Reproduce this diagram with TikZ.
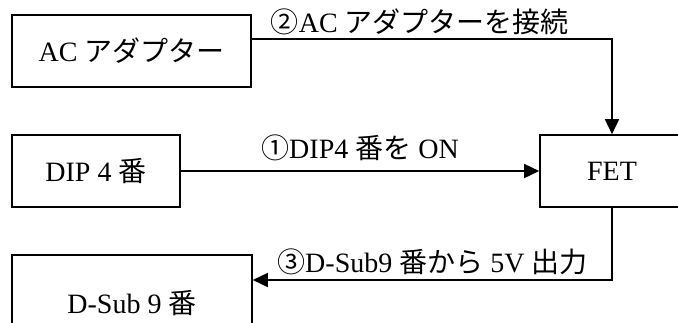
\documentclass[tikz,border=0pt]{standalone}
\usepackage{fontspec}
\setmainfont{Liberation Serif}
\newfontfamily\jp{Noto Sans CJK JP}
\usetikzlibrary{arrows.meta}

\begin{document}
\begin{tikzpicture}[x=1pt, y=-1pt, font=\fontsize{28}{34}\selectfont, line width=1.6pt, line join=miter, >={Triangle[length=15pt,width=14pt]},
	box/.style={draw, minimum height=72pt, inner sep=0pt},
	lbl/.style={inner sep=2pt}]
	\def \W{678}
	\def \H{322}
	\useasboundingbox (0,0) rectangle (\W,\H);
	\clip (0,0) rectangle (\W,\H);
	% blocks
	\node[box, minimum width=239pt] (ac) at (131.5,51) {AC {\jp アダプター}};
	\node[box, minimum width=168pt] (dip) at (96,171) {DIP 4 {\jp 番}};
	\node[box, minimum width=144pt] (fet) at (612,171) {FET};
	\node[box, minimum width=240pt, minimum height=96pt] (dsub) at (132,303) {D-Sub 9 {\jp 番}};
	% wiring
	\draw[->] ([yshift=12pt]ac.east) -| (fet.north) node[lbl, pos=0.25, above=1pt, xshift=-12pt] {{\jp ②}AC {\jp アダプターを接続}};
	\draw[->] (dip.east) -- (fet.west) node[lbl, midway, above=7pt] {{\jp ①}DIP4 {\jp 番を} ON};
	\draw[->] (fet.south) |- ([yshift=23pt]dsub.east) node[lbl, pos=0.75, above=2pt] {{\jp ③}D-Sub9 {\jp 番から} 5V {\jp 出力}};
\end{tikzpicture}
\end{document}
